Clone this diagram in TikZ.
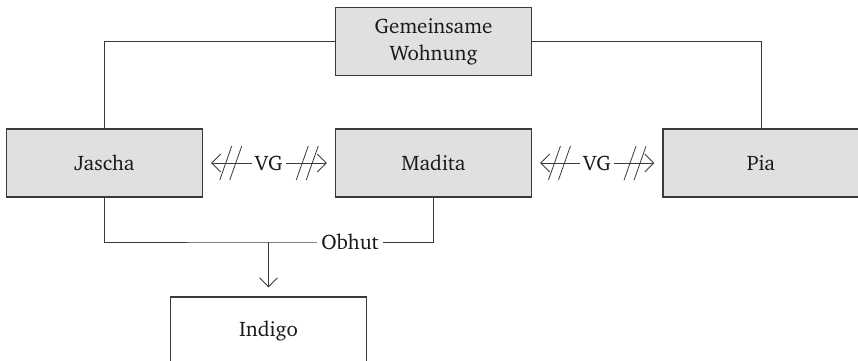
\documentclass[tikz,border=0pt]{standalone}
\usepackage[T1]{fontenc}
\usepackage{charter}
\usetikzlibrary{arrows.meta}
\definecolor{boxfill}{HTML}{E0E0E0}
\definecolor{linecol}{HTML}{3A3A3A}
\definecolor{textcol}{HTML}{1A1A1A}
\begin{document}
\begin{tikzpicture}[x=1pt,y=-1pt,
  every node/.style={font=\fontsize{21}{27}\selectfont, text=textcol},
  person/.style={draw=linecol, line width=1.1pt, fill=boxfill,
    minimum width=196pt, minimum height=68pt, inner sep=0pt, align=center},
  plainbox/.style={person, fill=white},
  wire/.style={draw=linecol, line width=0.9pt},
  barb/.style={-{Straight Barb[length=9pt,width=18pt,line width=0.9pt]}},
  vg/.style={wire, {Straight Barb[length=9pt,width=18pt,line width=0.9pt]}-{Straight Barb[length=9pt,width=18pt,line width=0.9pt]},
    shorten <=8pt, shorten >=8pt},
  lbl/.style={fill=white, inner sep=4pt},
  slashline/.style={draw=linecol, line width=0.8pt, -, shorten <=0pt, shorten >=0pt},
  % two parallel strokes leaning like "//"
  dslash/.pic={
    \path[slashline] (-11pt,-17pt) -- (1pt,17pt);
    \path[slashline] (-1pt,-17pt) -- (11pt,17pt);
  }]
  \useasboundingbox (0,0) rectangle (858,360);

  % boxes
  \node[person] (gw)     at (433.5,41.5) {Gemeinsame\\Wohnung};
  \node[person] (jascha) at (104.5,163)  {Jascha};
  \node[person] (madita) at (433.5,163)  {Madita};
  \node[person] (pia)    at (761,163)    {Pia};
  \node[plainbox] (indigo) at (268.5,331) {Indigo};

  % shared flat
  \draw[wire] (gw.west) -| (jascha.north);
  \draw[wire] (gw.east) -| (pia.north);

  % custody
  \coordinate (join) at (268.5,242);
  \draw[wire] (jascha.south) |- (join) -| (madita.south);
  \node[lbl] (obhut) at (350,242) {Obhut};
  \draw[wire, barb, shorten >=9pt] (join) -- (indigo.north);

  % VG relations
  \draw[vg] (jascha.east) -- pic[pos=0.21]{dslash} node[lbl, inner sep=3pt] (vg1) {VG} pic[pos=0.79]{dslash} (madita.west);
  \draw[vg] (madita.east) -- pic[pos=0.21]{dslash} node[lbl, inner sep=3pt] (vg2) {VG} pic[pos=0.79]{dslash} (pia.west);
\end{tikzpicture}
\end{document}
